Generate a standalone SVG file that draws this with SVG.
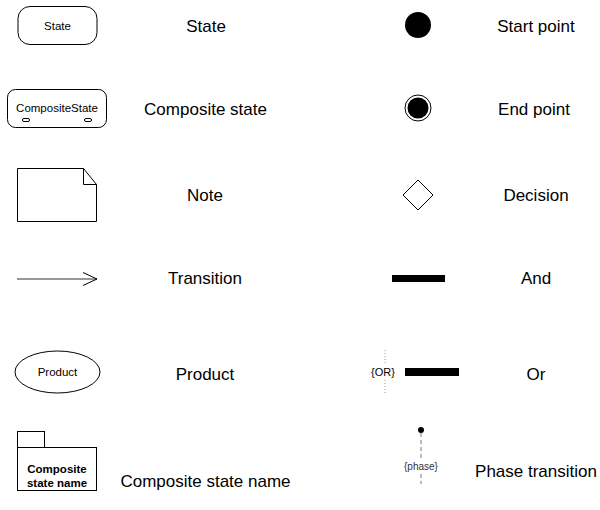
<svg xmlns="http://www.w3.org/2000/svg" width="600" height="510" viewBox="0 0 600 510">
  <style>
    .shape { fill: #ffffff; stroke: #000000; stroke-width: 1; }
    .small { font-family: "Liberation Sans", Arial, sans-serif; font-size: 11.5px; fill: #000000; text-anchor: middle; }
    .label { font-family: "Liberation Sans", Arial, sans-serif; font-size: 17px; fill: #000000; text-anchor: middle; }
    .bold { font-weight: bold; }
    .solid { fill: #000000; }
  </style>
  <defs>
    <marker id="open-arrow" markerWidth="16" markerHeight="14" refX="15" refY="7" orient="auto" markerUnits="userSpaceOnUse">
      <path d="M1,0.5 L15,7 L1,13.5" fill="none" stroke="#000000" stroke-width="1"/>
    </marker>
  </defs>

  <!-- left column symbols -->
  <g id="state">
    <rect class="shape" x="18" y="6.5" width="79" height="38" rx="12" ry="12"/>
    <text class="small" x="57.5" y="30">State</text>
  </g>

  <g id="composite-state">
    <rect class="shape" x="7.5" y="89.5" width="99" height="38" rx="8" ry="8"/>
    <text class="small" x="57" y="112">CompositeState</text>
    <rect class="shape" x="22.5" y="118.5" width="7" height="3" rx="1.5" ry="1.5"/>
    <rect class="shape" x="84.5" y="118.5" width="7" height="3" rx="1.5" ry="1.5"/>
  </g>

  <g id="note">
    <path class="shape" d="M17.5,168.5 H83.5 L96.5,184.5 V221.5 H17.5 Z"/>
    <path d="M83.5,168.5 V184.5 H96.5" fill="none" stroke="#000000" stroke-width="1"/>
  </g>

  <g id="connectors">
    <line id="transition" x1="17" y1="279" x2="97" y2="279" stroke="#333333" stroke-width="1.2" marker-end="url(#open-arrow)"/>
  </g>

  <g id="product">
    <ellipse class="shape" cx="57.5" cy="372" rx="42.5" ry="21"/>
    <text class="small" x="57.5" y="376">Product</text>
  </g>

  <g id="composite-state-name">
    <rect class="shape" x="17.5" y="431.5" width="27" height="16"/>
    <rect class="shape" x="17.5" y="447.5" width="79" height="43"/>
    <text class="small bold" x="57" y="473">Composite</text>
    <text class="small bold" x="57" y="487">state name</text>
  </g>

  <!-- right column symbols -->
  <g id="start-point">
    <circle class="solid" cx="418" cy="25" r="13"/>
  </g>

  <g id="end-point">
    <circle cx="418" cy="108" r="13" fill="#ffffff" stroke="#000000" stroke-width="1"/>
    <circle class="solid" cx="418" cy="108" r="10.5"/>
  </g>

  <g id="decision">
    <path class="shape" d="M418,180 L433,195 L418,210 L403,195 Z"/>
  </g>

  <g id="and">
    <rect class="solid" x="392" y="275" width="53" height="7"/>
  </g>

  <g id="or">
    <line x1="385" y1="350" x2="385" y2="364" stroke="#999999" stroke-width="1" stroke-dasharray="1,2"/>
    <line x1="385" y1="380" x2="385" y2="394" stroke="#999999" stroke-width="1" stroke-dasharray="1,2"/>
    <text class="small" x="383" y="376" style="font-size:11px">{OR}</text>
    <rect class="solid" x="405" y="368" width="54" height="8"/>
  </g>

  <g id="phase">
    <circle class="solid" cx="421" cy="430" r="3"/>
    <line x1="421" y1="433" x2="421" y2="458" stroke="#777777" stroke-width="1" stroke-dasharray="4,3"/>
    <line x1="421" y1="474" x2="421" y2="484" stroke="#777777" stroke-width="1" stroke-dasharray="4,3"/>
    <text class="small" x="421" y="470" style="font-size:10px;fill:#333333">{phase}</text>
  </g>

  <!-- legend texts -->
  <g id="labels">
    <text class="label" x="206" y="32">State</text>
    <text class="label" x="205.5" y="115">Composite state</text>
    <text class="label" x="205" y="201">Note</text>
    <text class="label" x="205" y="284">Transition</text>
    <text class="label" x="205" y="380">Product</text>
    <text class="label" x="205.5" y="487">Composite state name</text>
    <text class="label" x="536" y="32">Start point</text>
    <text class="label" x="534" y="115">End point</text>
    <text class="label" x="536" y="201">Decision</text>
    <text class="label" x="536" y="284">And</text>
    <text class="label" x="536" y="380">Or</text>
    <text class="label" x="536" y="477">Phase transition</text>
  </g>
</svg>
